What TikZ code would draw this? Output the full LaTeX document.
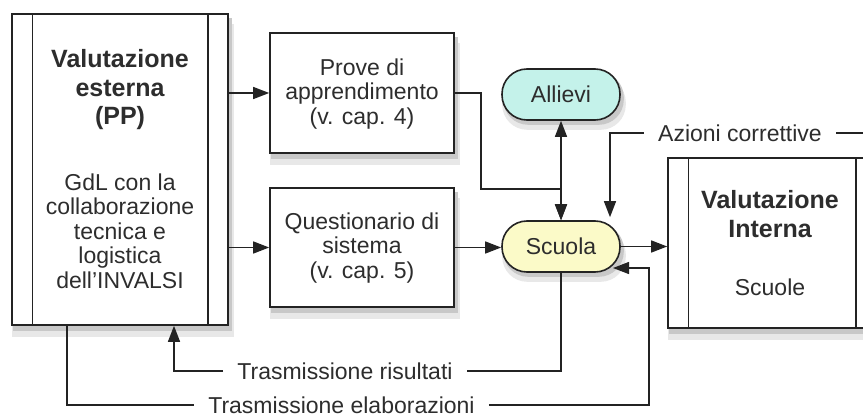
\documentclass[tikz,border=0pt]{standalone}
\usepackage{fontspec}
\setmainfont{Liberation Sans}
\usetikzlibrary{arrows.meta,backgrounds}
\definecolor{allievicol}{RGB}{196,242,234}
\definecolor{scuolacol}{RGB}{251,250,200}
\definecolor{linecol}{RGB}{35,35,35}
\definecolor{textcol}{RGB}{45,45,45}
\definecolor{shadowfar}{RGB}{232,232,232}
\definecolor{shadownear}{RGB}{200,200,200}
\newcommand{\bigtxt}{\fontsize{25}{28.5}\selectfont\bfseries}
\newcommand{\smalltxt}{\fontsize{23}{24.5}\selectfont}
\begin{document}
\begin{tikzpicture}[x=1pt,y=-1pt,
    box/.style={draw=linecol,line width=1.6pt,fill=white},
    pill/.style={box,rounded corners=25pt,minimum width=118pt,minimum height=51pt,
      font=\smalltxt,text=textcol},
    txt/.style={align=center,text=textcol,inner sep=0pt},
    lbl/.style={font=\smalltxt,text=textcol,inner xsep=14pt,inner ysep=0pt},
    wire/.style={draw=linecol,line width=1.4pt},
    arr/.style={wire,-{Triangle[length=16pt,width=12pt]}},
    arrr/.style={wire,{Triangle[length=16pt,width=12pt]}-{Triangle[length=16pt,width=12pt]}}]
  \useasboundingbox (0,0) rectangle (863,417);
  \node[box,minimum width=216pt,minimum height=311pt] (ext) at (120,169.5) {};
  \draw[wire] ([xshift=21pt]ext.north west) -- ([xshift=21pt]ext.south west);
  \draw[wire] ([xshift=-21pt]ext.north east) -- ([xshift=-21pt]ext.south east);
  \node[txt,font=\bigtxt] (exttitle) at (120,90) {Valutazione\\esterna\\(PP)};
  \node[txt,font=\smalltxt] (extsub) at (120,231) {GdL con la\\collaborazione\\tecnica e\\logistica\\dell'INVALSI};
  \node[box,minimum width=184pt,minimum height=120pt] (prove) at (362,93) {};
  \node[txt,font=\smalltxt] (provetxt) at (362,94) {Prove di\\apprendimento\\(v. cap. 4)};
  \node[box,minimum width=184pt,minimum height=119pt] (quest) at (362,247.5) {};
  \node[txt,font=\smalltxt] (questtxt) at (362,248) {Questionario di\\sistema\\(v. cap. 5)};
  \node[pill,fill=allievicol] (allievi) at (561,94.5) {Allievi};
  \node[pill,fill=scuolacol] (scuola) at (561,246.5) {Scuola};
  \node[box,minimum width=208pt,minimum height=170pt] (vint) at (772,243) {};
  \draw[wire] ([xshift=21pt]vint.north west) -- ([xshift=21pt]vint.south west);
  \draw[wire] ([xshift=-21pt]vint.north east) -- ([xshift=-21pt]vint.south east);
  \node[txt,font=\bigtxt] (vinttitle) at (770,214) {Valutazione\\Interna};
  \node[txt,font=\smalltxt] (vintsub) at (770,287) {Scuole};
  \node[lbl] (azioni) at (740,133) {Azioni correttive};
  \node[lbl] (risultati) at (345,371) {Trasmissione risultati};
  \node[lbl] (elab) at (341.5,405) {Trasmissione elaborazioni};
  \coordinate (pj) at (481,189);
  \coordinate (azr) at (880,133);
  \coordinate (ret) at (649,268);
  \begin{pgfonlayer}{background}
    \foreach \n in {ext,prove,quest,vint} {
      \fill[shadowfar] ([xshift=1pt,yshift=-11pt]\n.north west) rectangle ([xshift=5pt,yshift=-11pt]\n.south east);
      \fill[shadownear] ([xshift=2pt,yshift=-5pt]\n.north west) rectangle ([xshift=3pt,yshift=-5pt]\n.south east);
    }
    \foreach \n in {allievi,scuola} {
      \fill[shadowfar,rounded corners=25pt] ([xshift=1pt,yshift=-9pt]\n.north west) rectangle ([xshift=5pt,yshift=-9pt]\n.south east);
      \fill[shadownear,rounded corners=25pt] ([xshift=2pt,yshift=-4pt]\n.north west) rectangle ([xshift=3pt,yshift=-4pt]\n.south east);
    }
  \end{pgfonlayer}
  \begin{scope}
    \draw[arr] (ext.east |- prove.west) -- (prove.west);
    \draw[arr] (ext.east |- quest.west) -- (quest.west);
    \draw[arr] (prove.east) -| (pj) -| (scuola.north);
    \draw[arrr] (allievi) -- (scuola);
    \draw[arr] (quest.east) -- (quest.east -| scuola.west);
    \draw[arr] (scuola.east) -- (scuola.east -| vint.west);
    \draw[wire] (azioni.east) -- (azr);
    \draw[arr] (azioni.west) -| ([xshift=49pt,yshift=3pt]scuola.north);
    \draw[wire] (scuola.south) |- (risultati.east);
    \draw[arr] (risultati.west) -| ([xshift=54pt]ext.south);
    \draw[wire] ([xshift=-53pt]ext.south) |- (elab.west);
    \draw[arr] (elab.east) -| (ret) -- ([xshift=-36pt]ret);
  \end{scope}
\end{tikzpicture}
\end{document}
